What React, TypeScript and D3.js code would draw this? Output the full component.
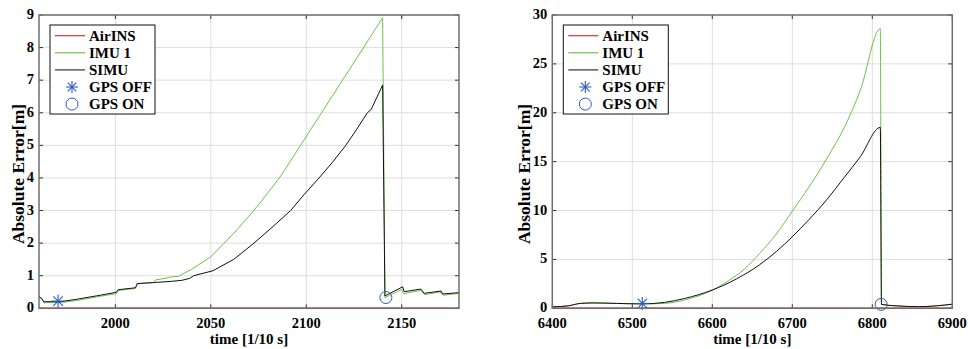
import React from 'react'
import * as d3 from 'd3'

// left panel (time in 1/10 s, error in m)
const leftImuT = [1960, 1961.5, 1962.5, 1972, 1980, 1990, 2000.5, 2001.5, 2010.5, 2011.5, 2020, 2021, 2026, 2030, 2033, 2040, 2050, 2062, 2070, 2077, 2087, 2097, 2108, 2119, 2130, 2140, 2141.2, 2150, 2151, 2160, 2162, 2170, 2172, 2180]
const leftImuV = [0.36, 0.3, 0.17, 0.18, 0.24, 0.35, 0.45, 0.55, 0.61, 0.75, 0.79, 0.87, 0.92, 0.97, 0.98, 1.2, 1.58, 2.3, 2.83, 3.32, 4.09, 5.0, 6.0, 7.0, 8.0, 8.92, 0.33, 0.58, 0.45, 0.55, 0.42, 0.5, 0.4, 0.46]
const leftSimuT = [1960, 1961.5, 1962.5, 1972, 1980, 1990, 2000.5, 2001.5, 2010.5, 2011.5, 2020, 2030, 2035, 2039, 2041, 2051, 2062, 2072.6, 2082, 2091.8, 2099, 2106.7, 2114, 2120.7, 2126.5, 2132, 2134, 2140, 2141.2, 2150.5, 2151.3, 2160, 2161.8, 2170.6, 2171.4, 2180]
const leftSimuV = [0.36, 0.3, 0.2, 0.21, 0.28, 0.38, 0.49, 0.57, 0.63, 0.76, 0.79, 0.83, 0.86, 0.92, 1.0, 1.15, 1.5, 2.0, 2.48, 3.0, 3.5, 4.0, 4.5, 5.0, 5.5, 6.0, 6.1, 6.85, 0.38, 0.66, 0.51, 0.59, 0.46, 0.53, 0.44, 0.48]
const leftOff = [1970, 0.22]
const leftOn = [2141.7, 0.33]
const leftXTicks = [2000, 2050, 2100, 2150]
const leftYTicks = [0, 1, 2, 3, 4, 5, 6, 7, 8, 9]

// right panel
const rightImuT = [6400, 6420, 6435, 6452, 6480, 6512, 6540, 6565, 6600, 6620, 6640, 6659, 6680, 6701, 6720, 6743, 6765, 6785, 6810, 6811.5, 6830, 6859, 6880, 6900]
const rightImuV = [0.15, 0.25, 0.5, 0.55, 0.5, 0.45, 0.5, 0.85, 1.85, 2.8, 4.0, 5.6, 7.6, 10.05, 12.3, 15.3, 18.5, 22.3, 28.6, 0.4, 0.25, 0.17, 0.25, 0.42]
const rightSimuT = [6400, 6420, 6435, 6452, 6480, 6512, 6540, 6565, 6600, 6630, 6659, 6680, 6701, 6720, 6743, 6765, 6785, 6810, 6811.5, 6830, 6859, 6880, 6900]
const rightSimuV = [0.15, 0.25, 0.5, 0.55, 0.5, 0.45, 0.6, 1.0, 1.87, 3.0, 4.45, 5.8, 7.4, 9.0, 11.1, 13.4, 15.5, 18.5, 0.4, 0.25, 0.17, 0.25, 0.42]
const rightOff = [6512.5, 0.5]
const rightOn = [6811, 0.4]
const rightXTicks = [6400, 6500, 6600, 6700, 6800, 6900]
const rightYTicks = [0, 5, 10, 15, 20, 25, 30]

const legendNames = ['AirINS', 'IMU 1', 'SIMU', 'GPS OFF', 'GPS ON']

const RED = '#ee2b2b'
const GREEN = '#6cc24a'
const BLACK = '#111'
const BLUE = '#2d5bbd'
const AXIS = '#707070'
const GRID = '#dedede'
const FONT = '"Liberation Serif", "Times New Roman", serif'

function Star({ x, y, r }) {
  const d = r * 0.72
  return (
    <g stroke={BLUE} strokeWidth={1.1}>
      <line x1={x - r} y1={y} x2={x + r} y2={y} />
      <line x1={x} y1={y - r} x2={x} y2={y + r} />
      <line x1={x - d} y1={y - d} x2={x + d} y2={y + d} />
      <line x1={x - d} y1={y + d} x2={x + d} y2={y - d} />
    </g>
  )
}

function Panel(props) {
  const { left, right, top, bottom, xDomain, yDomain, xTicks, yTicks, imuT, imuV, simuT, simuV, off, on, curve, labelX } = props
  const x = d3.scaleLinear().domain(xDomain).range([left, right])
  const y = d3.scaleLinear().domain(yDomain).range([bottom, top])
  const line = d3.line().x(d => x(d[0])).y(d => y(d[1])).curve(curve)
  const imu = imuT.map((t, i) => [t, imuV[i]])
  const simu = simuT.map((t, i) => [t, simuV[i]])
  const red = [[xDomain[0], 0], [xDomain[1], 0]]
  const lx = left + 11
  const ly = 25
  return (
    <g fontFamily={FONT} fontWeight="bold">
      {xTicks.map(t => (
        <line key={'gx' + t} x1={x(t)} x2={x(t)} y1={top} y2={bottom} stroke={GRID} />
      ))}
      {yTicks.map(t => (
        <line key={'gy' + t} x1={left} x2={right} y1={y(t)} y2={y(t)} stroke={GRID} />
      ))}
      {xTicks.map(t => (
        <g key={'tx' + t}>
          <line x1={x(t)} x2={x(t)} y1={bottom} y2={bottom - 4} stroke="#333" />
          <line x1={x(t)} x2={x(t)} y1={top} y2={top + 4} stroke="#333" />
          <text x={x(t)} y={327.5} textAnchor="middle" fontSize={14.5}>{t}</text>
        </g>
      ))}
      {yTicks.map(t => (
        <g key={'ty' + t}>
          <line x1={left} x2={left + 4} y1={y(t)} y2={y(t)} stroke="#333" />
          <line x1={right} x2={right - 4} y1={y(t)} y2={y(t)} stroke="#333" />
          <text x={left - 5} y={y(t) + 4} textAnchor="end" fontSize={14.5}>{t}</text>
        </g>
      ))}
      <path d={line(imu)} fill="none" stroke={GREEN} strokeWidth={1} />
      <path d={line(simu)} fill="none" stroke={BLACK} strokeWidth={1} />
      <path d={line(red)} fill="none" stroke={RED} strokeWidth={1.4} />
      <Star x={x(off[0])} y={y(off[1])} r={6.5} />
      <circle cx={x(on[0])} cy={y(on[1])} r={6} fill="none" stroke={BLUE} strokeWidth={1} />
      <rect x={left} y={top} width={right - left} height={bottom - top} fill="none" stroke={AXIS} strokeWidth={1.5} />
      <text x={(left + right) / 2} y={344} textAnchor="middle" fontSize={15}>time [1/10 s]</text>
      <text transform={`translate(${labelX},174) rotate(-90)`} textAnchor="middle" fontSize={17.5}>Absolute Error[m]</text>
      <rect x={lx} y={ly} width={105} height={89} fill="#fff" stroke="#111" strokeWidth={1} />
      {legendNames.map((n, i) => {
        const cy = ly + 10.7 + i * 17.1
        return (
          <g key={n}>
            {i === 0 && <line x1={lx + 5} x2={lx + 35} y1={cy} y2={cy} stroke={RED} strokeWidth={1.2} />}
            {i === 1 && <line x1={lx + 5} x2={lx + 35} y1={cy} y2={cy} stroke={GREEN} strokeWidth={1.2} />}
            {i === 2 && <line x1={lx + 5} x2={lx + 35} y1={cy} y2={cy} stroke="#333" strokeWidth={1.2} />}
            {i === 3 && <Star x={lx + 22} y={cy} r={6} />}
            {i === 4 && <circle cx={lx + 22} cy={cy} r={6} fill="none" stroke={BLUE} strokeWidth={1} />}
            <text x={lx + 39} y={cy + 5} fontSize={15}>{n}</text>
          </g>
        )
      })}
    </g>
  )
}

export default function App() {
  return (
    <svg width={968} height={349} style={{ position: 'absolute', left: 0, top: 0, background: '#fff' }}>
      <rect width={968} height={349} fill="#fff" />
      <Panel left={39} right={459} top={15} bottom={308.3} xDomain={[1960, 2180]} yDomain={[0, 9]}
        xTicks={leftXTicks} yTicks={leftYTicks} imuT={leftImuT} imuV={leftImuV} simuT={leftSimuT} simuV={leftSimuV}
        off={leftOff} on={leftOn} curve={d3.curveLinear} labelX={24} />
      <Panel left={552.3} right={952.3} top={15} bottom={308.3} xDomain={[6400, 6900]} yDomain={[0, 30]}
        xTicks={rightXTicks} yTicks={rightYTicks} imuT={rightImuT} imuV={rightImuV} simuT={rightSimuT} simuV={rightSimuV}
        off={rightOff} on={rightOn} curve={d3.curveMonotoneX} labelX={530} />
    </svg>
  )
}
